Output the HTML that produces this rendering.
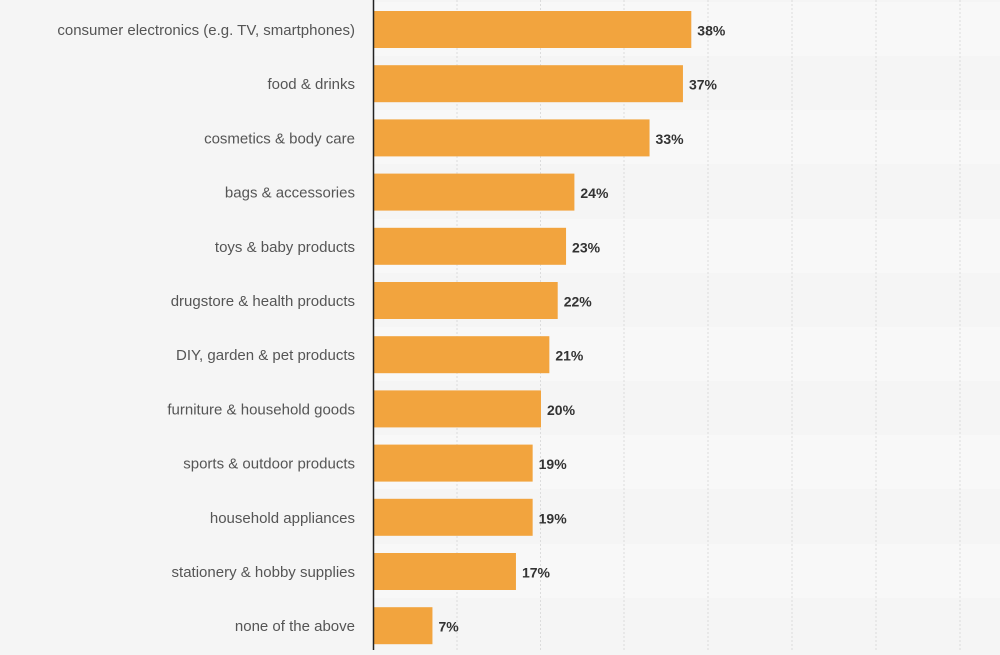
<!DOCTYPE html>
<html><head><style>
body{margin:0;width:1000px;height:650px;background:#f5f5f5;overflow:hidden;font-family:"Liberation Sans",sans-serif}
</style></head><body>
<svg width="1000" height="650" xmlns="http://www.w3.org/2000/svg" font-family="Liberation Sans, sans-serif">
<rect width="1000" height="650" fill="#f5f5f5"/>
<g fill="#f8f8f8">
<rect x="373" y="2" width="627" height="54"/>
<rect x="373" y="110" width="627" height="54"/>
<rect x="373" y="219" width="627" height="54"/>
<rect x="373" y="327" width="627" height="54"/>
<rect x="373" y="435" width="627" height="54"/>
<rect x="373" y="544" width="627" height="54"/>
</g>
<g stroke="#dcdcdc" stroke-width="1" stroke-dasharray="2,2">
<line x1="457" y1="0" x2="457" y2="650"/><line x1="540.5" y1="0" x2="540.5" y2="650"/>
<line x1="624" y1="0" x2="624" y2="650"/><line x1="708" y1="0" x2="708" y2="650"/>
<line x1="792" y1="0" x2="792" y2="650"/><line x1="876" y1="0" x2="876" y2="650"/>
<line x1="960" y1="0" x2="960" y2="650"/>
</g>
<g id="bars" fill="#f2a43e"></g>
<g id="labs" font-size="15" fill="#555" text-anchor="end"></g>
<g id="vals" font-size="14" font-weight="bold" fill="#333"></g>
<line x1="373.5" y1="0" x2="373.5" y2="650" stroke="#222" stroke-width="1.5"/>
<script>
var d=[["consumer electronics (e.g. TV, smartphones)",38],["food & drinks",37],["cosmetics & body care",33],["bags & accessories",24],["toys & baby products",23],["drugstore & health products",22],["DIY, garden & pet products",21],["furniture & household goods",20],["sports & outdoor products",19],["household appliances",19],["stationery & hobby supplies",17],["none of the above",7]];
var ns="http://www.w3.org/2000/svg";
function el(t,a,p,txt){var e=document.createElementNS(ns,t);for(var k in a)e.setAttribute(k,a[k]);if(txt)e.textContent=txt;document.getElementById(p).appendChild(e);}
d.forEach(function(r,i){var c=29.5+54.2*i,w=r[1]*8.35;
el("rect",{x:374,y:c-18.5,width:w,height:37},"bars");
el("text",{x:355,y:c+5.5},"labs",r[0]);
el("text",{x:374+w+6,y:c+6},"vals",r[1]+"%");});
</script>
</svg>
</body></html>
